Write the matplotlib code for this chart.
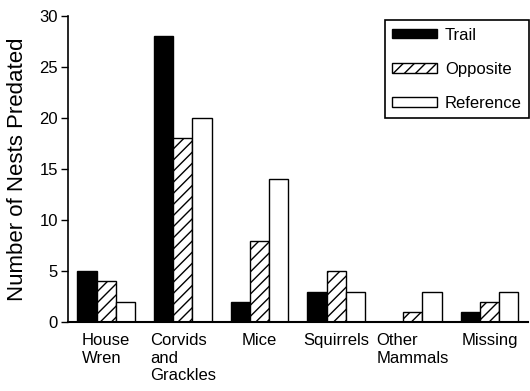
import matplotlib
matplotlib.use("Agg")
import matplotlib.pyplot as plt
import numpy as np

plt.rcParams['font.family'] = ['Liberation Sans', 'DejaVu Sans']
plt.rcParams['hatch.linewidth'] = 1.0

categories = ["House\nWren", "Corvids\nand\nGrackles", "Mice", "Squirrels", "Other\nMammals", "Missing"]
trail = [5, 28, 2, 3, 0, 1]
opposite = [4, 18, 8, 5, 1, 2]
reference = [2, 20, 14, 3, 3, 3]
series_names = ["Trail", "Opposite", "Reference"]

fig = plt.figure(figsize=(5.30, 3.91), dpi=100)
ax = fig.add_axes([0.128, 0.176, 0.868, 0.783])

x = np.arange(len(categories))
w = 0.25
ax.bar(x - w, trail, w, color='black', edgecolor='black', linewidth=1, label=series_names[0])
ax.bar(x, opposite, w, color='white', edgecolor='black', hatch='///', linewidth=1, label=series_names[1])
ax.bar(x + w, reference, w, color='white', edgecolor='black', linewidth=1, label=series_names[2])

ax.set_xlim(-0.5, 5.5)
ax.set_ylim(0, 30)
ax.set_yticks([0, 5, 10, 15, 20, 25, 30])
ax.tick_params(axis='y', direction='out', length=5, width=1, labelsize=12, pad=2)
ax.set_xticks(x)
ax.set_xticklabels(categories, fontsize=12, multialignment='left', linespacing=1.2)
ax.tick_params(axis='x', length=0, pad=8)
for s in ['top', 'right']:
    ax.spines[s].set_visible(False)
ax.spines['left'].set_linewidth(1.2)
ax.spines['bottom'].set_linewidth(1.5)

ax.set_ylabel("Number of Nests Predated", fontsize=16, labelpad=8)

leg = ax.legend(loc='upper right', bbox_to_anchor=(1.003, 0.987), borderaxespad=0,
                fontsize=12, handlelength=2.7, handleheight=0.5, labelspacing=1.15,
                fancybox=False, edgecolor='black', framealpha=1,
                borderpad=0.45, handletextpad=0.45)
leg.get_frame().set_linewidth(1.2)

fig.savefig("out.png", dpi=100)
